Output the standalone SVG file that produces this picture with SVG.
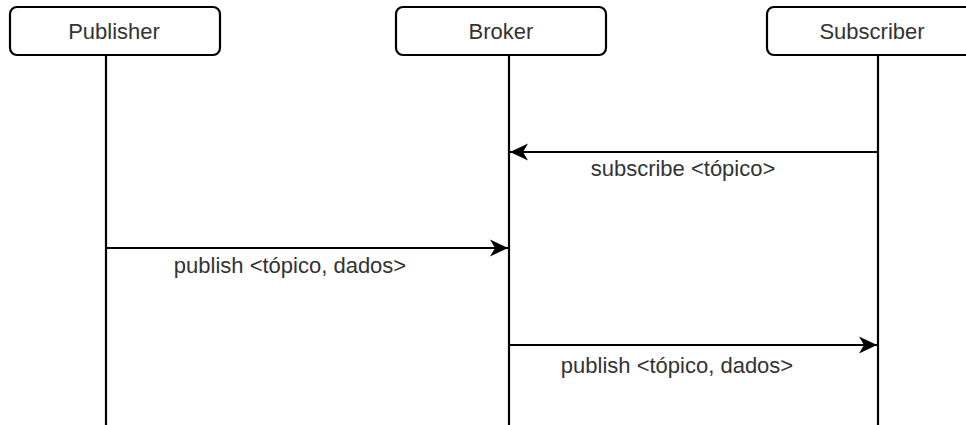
<svg xmlns="http://www.w3.org/2000/svg" width="966" height="425" viewBox="0 0 966 425">
  <style>
    .head { fill: #ffffff; stroke: #000000; stroke-width: 2.2; }
    .life { stroke: #000000; stroke-width: 2.2; fill: none; }
    .msg { stroke: #000000; stroke-width: 2.2; fill: none; }
    .t { font-family: "Liberation Sans", Arial, sans-serif; font-size: 22px; fill: #333333; text-anchor: middle; }
  </style>
  <defs>
    <!-- filled arrowhead with a shallow notch at the back -->
    <marker id="arrow" markerUnits="userSpaceOnUse" markerWidth="20" markerHeight="20" refX="18" refY="9" orient="auto">
      <path d="M0,0.5 L18,9 L0,17.5 L5,9 Z" fill="#000000"/>
    </marker>
  </defs>
  <rect width="966" height="425" fill="#ffffff"/>

  <g id="publisher">
    <line class="life" x1="106" y1="55" x2="106" y2="425"/>
    <rect class="head" x="10" y="7" width="210" height="48" rx="7"/>
    <text class="t" x="114" y="39">Publisher</text>
  </g>

  <g id="broker">
    <line class="life" x1="509" y1="55" x2="509" y2="425"/>
    <rect class="head" x="396" y="7" width="210" height="48" rx="7"/>
    <text class="t" x="501" y="39">Broker</text>
  </g>

  <g id="subscriber">
    <line class="life" x1="878" y1="55" x2="878" y2="425"/>
    <rect class="head" x="767" y="7" width="210" height="48" rx="7"/>
    <text class="t" x="872" y="39">Subscriber</text>
  </g>

  <g id="connectors">
    <line class="msg" x1="878" y1="152" x2="510" y2="152" marker-end="url(#arrow)"/>
    <text class="t" x="683" y="176">subscribe &lt;tópico&gt;</text>

    <line class="msg" x1="106" y1="248" x2="508" y2="248" marker-end="url(#arrow)"/>
    <text class="t" x="290" y="273">publish &lt;tópico, dados&gt;</text>

    <line class="msg" x1="509" y1="345" x2="877" y2="345" marker-end="url(#arrow)"/>
    <text class="t" x="677" y="373">publish &lt;tópico, dados&gt;</text>
  </g>
</svg>
